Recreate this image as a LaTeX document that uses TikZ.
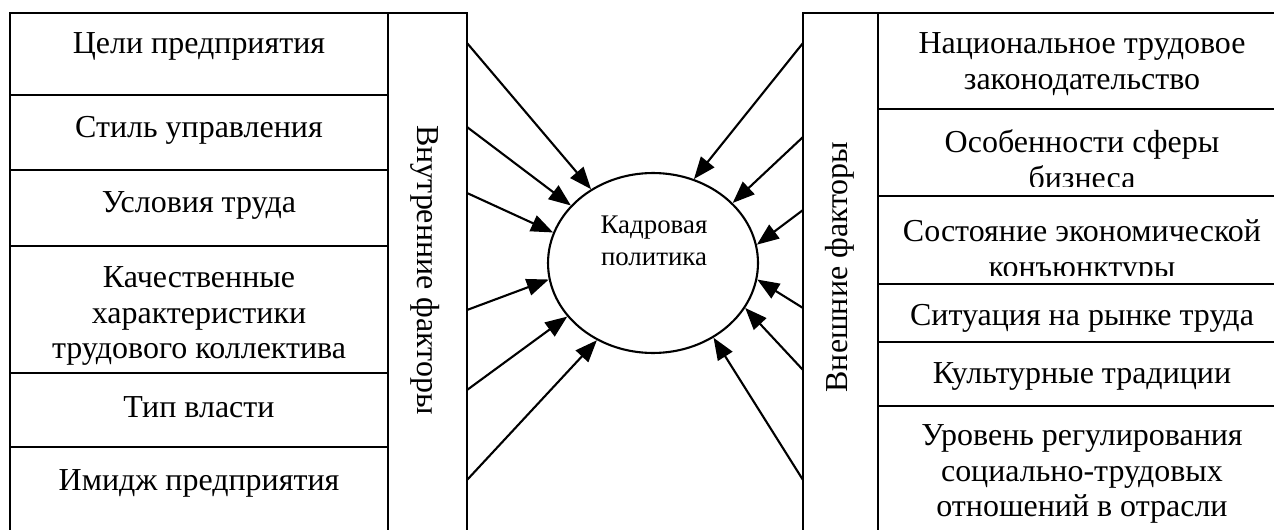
\documentclass[tikz,border=0pt]{standalone}
\usepackage{fontspec}
\setmainfont{LiberationSerif-Regular.ttf}[BoldFont=LiberationSerif-Bold.ttf]
\usetikzlibrary{arrows.meta,shapes.geometric}

\tikzset{
  frame/.style={line width=1.2pt},
  celltext/.style={anchor=north, inner sep=0pt, align=center,
    font=\fontsize{18.2pt}{20.2pt}\selectfont},
  sidetext/.style={inner sep=0pt, font=\fontsize{18.2pt}{20.2pt}\selectfont},
  core/.style={draw, ellipse, line width=1.2pt, minimum width=4.2cm,
    minimum height=3.6cm, inner sep=0pt},
  coretext/.style={anchor=north, inner sep=0pt, align=center,
    font=\fontsize{15.3pt}{18.2pt}\selectfont},
  influence/.style={line width=1.2pt, -{Triangle[length=4.4mm,width=3.4mm]}},
}

\begin{document}
\begin{tikzpicture}[x=0.02cm, y=-0.02cm]
  \clip (0,0) rectangle (1274,530);

  % internal factors: table of cells and the vertical caption strip
  \draw[frame] (10,13) rectangle (388,560);
  \draw[frame] (388,13) rectangle (467,560);
  \foreach \y in {95,170,246,373,447}
    \draw[frame] (10,\y) -- (388,\y);

  \node[celltext] (l1) at (199,28.5) {\strut Цели предприятия};
  \node[celltext] (l2) at (199,112.5) {\strut Стиль управления};
  \node[celltext] (l3) at (199,187.5) {\strut Условия труда};
  \node[celltext] (l4) at (199,262.5) {\strut Качественные\\характеристики\\трудового коллектива};
  \node[celltext] (l5) at (199,392.5) {\strut Тип власти};
  \node[celltext] (l6) at (199,465.5) {\strut Имидж предприятия};
  \node[sidetext, rotate=-90] (inner) at (425,270) {Внутренние факторы};

  % external factors: vertical caption strip and table of cells
  \draw[frame] (803,13) rectangle (878,560);
  \draw[frame] (878,13) rectangle (1300,560);
  \foreach \y in {109,196,284,342,406}
    \draw[frame] (878,\y) -- (1300,\y);

  \node[celltext] (r1) at (1082,28.5) {\strut Национальное трудовое\\законодательство};
  \begin{scope}
    \clip (878,109) rectangle (1300,187);
    \node[celltext] (r2) at (1082,127.5) {\strut Особенности сферы\\бизнеса};
  \end{scope}
  \begin{scope}
    \clip (878,196) rectangle (1300,275);
    \node[celltext] (r3) at (1082,216.5) {\strut Состояние экономической\\конъюнктуры};
  \end{scope}
  \node[celltext] (r4) at (1082,300.5) {\strut Ситуация на рынке труда};
  \node[celltext] (r5) at (1082,358.5) {\strut Культурные традиции};
  \node[celltext] (r6) at (1082,420.5) {\strut Уровень регулирования\\социально-трудовых\\отношений в отрасли};
  \node[sidetext, rotate=90] (outer) at (840,267) {Внешние факторы};

  % personnel policy in the middle
  \node[core] (core) at (653,263) {};
  \node[coretext] (kp) at (654,210.6) {\strut Кадровая\\политика};

  % arrow origins on the strips
  \coordinate (li1) at (467,43);
  \coordinate (li2) at (467,127);
  \coordinate (li3) at (467,193);
  \coordinate (li4) at (467,310);
  \coordinate (li5) at (467,390);
  \coordinate (li6) at (467,480);
  \coordinate (ro1) at (803,43);
  \coordinate (ro2) at (803,137);
  \coordinate (ro3) at (803,210);
  \coordinate (ro4) at (803,308);
  \coordinate (ro5) at (803,370);
  \coordinate (ro6) at (803,480);

  \draw[influence] (li1) -- (core.130.6);
  \draw[influence] (li2) -- (core.145.5);
  \draw[influence] (li3) -- (core.163.6);
  \draw[influence] (li4) -- (core.189.2);
  \draw[influence] (li5) -- (core.212);
  \draw[influence] (li6) -- (core.234.8);
  \draw[influence] (ro1) -- (core.64.2);
  \draw[influence] (ro2) -- (core.37.4);
  \draw[influence] (ro3) -- (core.10.7);
  \draw[influence] (ro4) -- (core.-9.5);
  \draw[influence] (ro5) -- (core.-26.8);
  \draw[influence] (ro6) -- (core.-51.2);
\end{tikzpicture}
\end{document}
